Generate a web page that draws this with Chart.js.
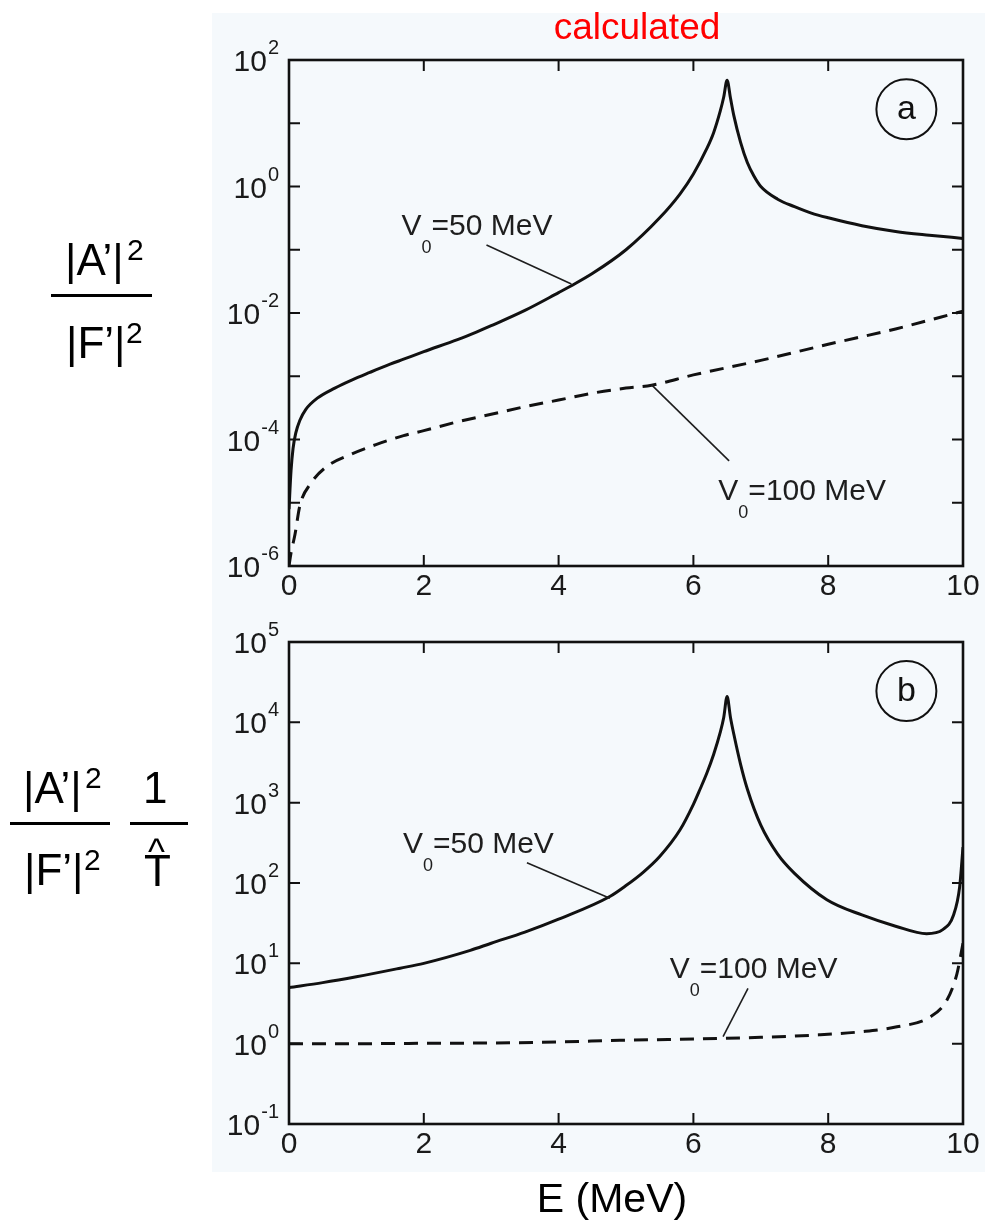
<!DOCTYPE html>
<html>
<head>
<meta charset="utf-8">
<script src="https://cdn.jsdelivr.net/npm/chart.js@4.4.1/dist/chart.umd.min.js"></script>
<style>
  html, body { margin:0; padding:0; background:#fff; }
  #page { position:relative; width:985px; height:1223px; overflow:hidden; font-family:"Liberation Sans", Arial, Helvetica, sans-serif; }
  .bg { position:absolute; left:212px; top:13px; width:773px; height:1159px; background:#f5f9fc; }
  canvas { position:absolute; left:0; }
  .t { position:absolute; line-height:1; white-space:nowrap; color:#000; }
  .bar { position:absolute; background:#000; }
</style>
</head>
<body>
<div id="page">
  <div class="bg"></div>
  <canvas id="chartA" width="985" height="620" style="top:0"></canvas>
  <canvas id="chartB" width="985" height="623" style="top:600px"></canvas>

  <div class="t" style="left:437px;width:400px;text-align:center;top:8px;font-size:37px;color:#ff0000">calculated</div>
  <div class="t" style="left:412px;width:400px;text-align:center;top:1178px;font-size:41px">E (MeV)</div>

  <!-- panel a label -->
  <div class="t" style="left:65px;top:238px;font-size:44px">|A’|</div>
  <div class="t" style="left:127px;top:235px;font-size:30px">2</div>
  <div class="bar" style="left:51px;top:294px;width:101px;height:3px"></div>
  <div class="t" style="left:66px;top:321px;font-size:44px">|F’|</div>
  <div class="t" style="left:126px;top:318px;font-size:30px">2</div>

  <!-- panel b label -->
  <div class="t" style="left:23px;top:766px;font-size:44px">|A’|</div>
  <div class="t" style="left:85px;top:763px;font-size:30px">2</div>
  <div class="bar" style="left:10px;top:822px;width:100px;height:3px"></div>
  <div class="t" style="left:24px;top:848px;font-size:44px">|F’|</div>
  <div class="t" style="left:84px;top:845px;font-size:30px">2</div>
  <div class="t" style="left:143px;top:766px;font-size:44px">1</div>
  <div class="bar" style="left:130px;top:822px;width:58px;height:3px"></div>
  <div class="t" style="left:148px;top:834px;font-size:36px">^</div>
  <div class="t" style="left:144px;top:849px;font-size:44px">T</div>
</div>

<script>
// values (E in MeV)
const FONT = '"Liberation Sans", Arial, Helvetica, sans-serif';

// panel a : |A'|^2 / |F'|^2
const eA50 = [0, 0.03, 0.06, 0.1, 0.16, 0.25, 0.42, 0.68, 0.93, 1.2, 1.5, 1.7, 2.0, 2.5, 2.78, 3.0, 3.5, 4.0, 4.19, 4.5, 5.0, 5.5, 5.8, 6.0, 6.2, 6.3, 6.4, 6.45, 6.5, 6.55, 6.6, 6.7, 6.8, 6.9, 7.0, 7.25, 7.5, 7.75, 8.0, 8.5, 9.0, 9.5, 10];
const yA50 = [7.9e-6, 3.2e-5, 7.2e-5, 1.26e-4, 2.0e-4, 3.0e-4, 4.5e-4, 6.5e-4, 8.7e-4, 1.15e-3, 1.55e-3, 1.86e-3, 2.45e-3, 3.8e-3, 5.0e-3, 6.3e-3, 1.1e-2, 2.1e-2, 2.7e-2, 4.2e-2, 0.1, 0.32, 0.76, 1.58, 4.0, 7.1, 15.8, 26, 48, 25, 13.2, 5.0, 2.4, 1.45, 1.0, 0.63, 0.48, 0.38, 0.32, 0.24, 0.195, 0.17, 0.151];
const eA100 = [0, 0.03, 0.09, 0.16, 0.32, 0.57, 0.93, 1.29, 1.7, 2.0, 2.5, 3.0, 3.5, 4.0, 4.5, 5.0, 5.38, 6.0, 7.0, 8.0, 9.0, 10];
const yA100 = [1.0e-6, 1.6e-6, 3.2e-6, 8.9e-6, 2.0e-5, 3.8e-5, 5.9e-5, 8.3e-5, 1.15e-4, 1.38e-4, 1.9e-4, 2.5e-4, 3.3e-4, 4.2e-4, 5.4e-4, 6.5e-4, 7.2e-4, 1.05e-3, 1.78e-3, 3.2e-3, 5.6e-3, 1.07e-2];

// panel b : |A'|^2 / |F'|^2 * 1/T
const eB50 = [0, 0.5, 1.0, 1.65, 2.0, 2.69, 3.0, 3.5, 4.0, 4.76, 5.0, 5.25, 5.5, 5.8, 6.0, 6.1, 6.2, 6.3, 6.4, 6.45, 6.5, 6.55, 6.6, 6.7, 6.8, 7.0, 7.25, 7.5, 7.98, 8.5, 9.0, 9.46, 9.7, 9.86, 9.95, 10];
const yB50 = [5.0, 5.75, 6.8, 8.7, 10, 14.5, 17.8, 24.5, 35.5, 68, 93, 135, 214, 457, 955, 1480, 2340, 3980, 7600, 1.15e4, 2.1e4, 1.15e4, 7100, 3000, 1480, 525, 229, 132, 62, 40, 29, 23.4, 26.3, 40, 89, 280];
const eB100 = [0, 1, 2, 3, 4, 4.91, 6.39, 7.0, 7.88, 8.5, 9.02, 9.51, 9.76, 9.91, 9.98, 10];
const yB100 = [1.0, 1.0, 1.01, 1.02, 1.05, 1.1, 1.16, 1.2, 1.29, 1.41, 1.62, 2.14, 3.47, 7.4, 14.5, 17.8];

// axes
const energyTicks = [0, 2, 4, 6, 8, 10];
const decadesA = [1e-6, 1e-5, 1e-4, 1e-3, 1e-2, 1e-1, 1, 10, 100];
const labelExpA = [-6, -4, -2, 0, 2];
const decadesB = [0.1, 1, 10, 100, 1e3, 1e4, 1e5];
const labelExpB = [-1, 0, 1, 2, 3, 4, 5];

// annotations (data coordinates)
const notesA = [
  { x: 1.67, y: 0.171, rest: '=50 MeV', line: [2.93, 0.119, 4.19, 0.0288] },
  { x: 6.37, y: 1.1e-5, rest: '=100 MeV', line: [5.38, 7.3e-4, 6.53, 4.6e-5] }
];
const notesB = [
  { x: 1.69, y: 236, rest: '=50 MeV', line: [3.53, 179, 4.76, 64.6] },
  { x: 5.65, y: 6.56, rest: '=100 MeV', line: [6.81, 4.89, 6.44, 1.22] }
];

function pts(xs, ys){ return xs.map((x, i) => ({ x: x, y: ys[i] })); }

// frame, inward ticks, tick labels, notes
const framePlugin = {
  id: 'frame',
  afterDatasetsDraw(chart, args, opts){
    const ctx = chart.ctx, a = chart.chartArea, x = chart.scales.x, y = chart.scales.y;
    ctx.save();
    ctx.strokeStyle = '#111';
    ctx.lineWidth = 2;
    ctx.beginPath();
    opts.decades.forEach(v => {
      const py = y.getPixelForValue(v);
      ctx.moveTo(a.left, py); ctx.lineTo(a.left + 11, py);
      ctx.moveTo(a.right, py); ctx.lineTo(a.right - 11, py);
    });
    energyTicks.slice(1, -1).forEach(v => {
      const px = x.getPixelForValue(v);
      ctx.moveTo(px, a.bottom); ctx.lineTo(px, a.bottom - 11);
      ctx.moveTo(px, a.top); ctx.lineTo(px, a.top + 11);
    });
    ctx.stroke();
    ctx.lineWidth = 2.6;
    ctx.strokeRect(a.left, a.top, a.right - a.left, a.bottom - a.top);

    // tick labels
    ctx.fillStyle = '#1a1a1a';
    ctx.textBaseline = 'alphabetic';
    opts.labelExp.forEach(e => {
      const py = y.getPixelForValue(Math.pow(10, e));
      const right = a.left - 10;
      ctx.font = '20px ' + FONT;
      const s = String(e);
      const ew = ctx.measureText(s).width;
      ctx.textAlign = 'left';
      ctx.fillText(s, right - ew, py - 6);
      ctx.font = '30px ' + FONT;
      ctx.textAlign = 'right';
      ctx.fillText('10', right - ew - 1, py + 11);
    });
    ctx.font = '30px ' + FONT;
    ctx.textAlign = 'center';
    energyTicks.forEach(v => {
      ctx.fillText(String(v), x.getPixelForValue(v), a.bottom + 29);
    });

    // annotations
    ctx.fillStyle = '#1e1e1e';
    ctx.strokeStyle = '#1e1e1e';
    opts.notes.forEach(n => {
      const px = x.getPixelForValue(n.x), py = y.getPixelForValue(n.y);
      ctx.textAlign = 'left';
      ctx.font = '30px ' + FONT;
      ctx.fillText('V', px, py);
      const wv = ctx.measureText('V').width;
      ctx.font = '18px ' + FONT;
      ctx.fillText('0', px + wv, py + 18);
      const ws = ctx.measureText('0').width;
      ctx.font = '30px ' + FONT;
      ctx.fillText(n.rest, px + wv + ws, py);
      ctx.lineWidth = 1.6;
      ctx.beginPath();
      ctx.moveTo(x.getPixelForValue(n.line[0]), y.getPixelForValue(n.line[1]));
      ctx.lineTo(x.getPixelForValue(n.line[2]), y.getPixelForValue(n.line[3]));
      ctx.stroke();
    });

    // panel letter
    const cx = x.getPixelForValue(opts.circle.x), cy = y.getPixelForValue(opts.circle.y);
    ctx.lineWidth = 2;
    ctx.strokeStyle = '#111';
    ctx.beginPath();
    ctx.arc(cx, cy, 30, 0, Math.PI * 2);
    ctx.stroke();
    ctx.font = '34px ' + FONT;
    ctx.textAlign = 'center';
    ctx.fillStyle = '#111';
    ctx.fillText(opts.circle.text, cx, cy + 10);
    ctx.restore();
  }
};

function lineSet(xs, ys, dashed){
  return {
    data: pts(xs, ys),
    borderColor: '#111',
    borderWidth: 3,
    borderDash: dashed ? [14, 9] : [],
    cubicInterpolationMode: 'monotone',
    pointRadius: 0,
    fill: false
  };
}

function makeChart(id, sets, yMin, yMax, padTop, xAxisH, frameOpts){
  return new Chart(document.getElementById(id), {
    type: 'line',
    data: { datasets: sets },
    options: {
      responsive: false,
      animation: false,
      events: [],
      layout: { padding: { left: 0, right: 22, top: padTop, bottom: 0 } },
      scales: {
        x: {
          type: 'linear', min: 0, max: 10,
          grid: { display: false, drawTicks: false }, border: { display: false },
          ticks: { display: false },
          afterFit(s){ s.height = xAxisH; }
        },
        y: {
          type: 'logarithmic', min: yMin, max: yMax,
          grid: { display: false, drawTicks: false }, border: { display: false },
          ticks: { display: false },
          afterFit(s){ s.width = 289; }
        }
      },
      plugins: { legend: { display: false }, tooltip: { enabled: false }, frame: frameOpts }
    },
    plugins: [framePlugin]
  });
}

makeChart('chartA', [lineSet(eA50, yA50, false), lineSet(eA100, yA100, true)], 1e-6, 1e2, 60, 54,
  { decades: decadesA, labelExp: labelExpA, notes: notesA, circle: { x: 9.16, y: 16.6, text: 'a' } });

makeChart('chartB', [lineSet(eB50, yB50, false), lineSet(eB100, yB100, true)], 0.1, 1e5, 42, 99,
  { decades: decadesB, labelExp: labelExpB, notes: notesB, circle: { x: 9.16, y: 2.45e4, text: 'b' } });
</script>
</body>
</html>
